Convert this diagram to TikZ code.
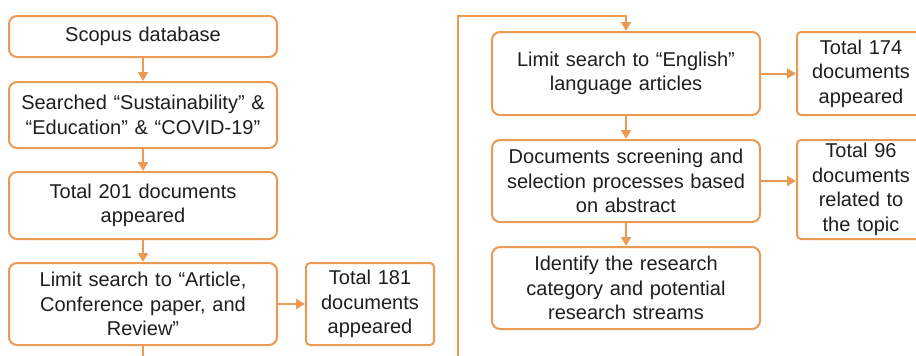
\documentclass[tikz,border=0pt]{standalone}
\usepackage{fontspec}
\setmainfont{Liberation Sans}
\usetikzlibrary{arrows.meta,positioning}
\definecolor{org}{HTML}{EA9A52}
\definecolor{txt}{HTML}{1E1E1E}
\begin{document}
\begin{tikzpicture}[x=1pt,y=-1pt,
  bigbox/.style={draw=org,line width=2pt,rounded corners=8pt,minimum width=268pt,inner sep=0pt,text width=262pt,align=center,text=txt,font=\fontsize{20}{24.5}\selectfont},
  smallbox/.style={draw=org,line width=2pt,rounded corners=4pt,minimum width=128pt,inner sep=0pt,text width=124pt,align=center,text=txt,font=\fontsize{20}{24.5}\selectfont},
  conn/.style={draw=org,line width=2pt},
  arr/.style={conn,-{Triangle[width=10pt,length=9pt]}}]
\useasboundingbox (0,0) rectangle (916,356);
\clip (0,0) rectangle (916,356);
\node[bigbox,minimum height=41pt] (b1) at (143,36.5) {Scopus database};
\node[bigbox,minimum height=66pt] (b2) at (143,115) {Searched “Sustainability” \&\\“Education” \& “COVID-19”};
\node[bigbox,minimum height=67pt] (b3) at (143,205.5) {Total 201 documents\\appeared};
\node[bigbox,minimum height=82pt] (b4) at (143,304) {Limit search to “Article,\\Conference paper, and\\Review”};
\node[smallbox,minimum height=82pt] (b5) at (370,304) {Total 181\\documents\\appeared};
\node[bigbox,minimum height=83pt] (b6) at (626,73.5) {Limit search to “English”\\language articles};
\node[smallbox,minimum height=83pt] (b7) at (861,73.5) {Total 174\\documents\\appeared};
\node[bigbox,minimum height=82pt] (b8) at (626,181) {Documents screening and\\selection processes based\\on abstract};
\node[smallbox,minimum height=99pt] (b9) at (861,189.5) {Total 96\\documents\\related to\\the topic};
\node[bigbox,minimum height=82pt] (b10) at (626,288) {Identify the research\\category and potential\\research streams};
\coordinate (d1) at (143,362);
\coordinate (d2) at (458,362);
\coordinate (t1) at (458,16);
\draw[arr] (b1) -- (b2);
\draw[arr] (b2) -- (b3);
\draw[arr] (b3) -- (b4);
\draw[arr] (b4) -- (b5);
\draw[conn] (b4.south) -- (d1);
\draw[arr] (d2) -- (t1) -| (b6.north);
\draw[arr] (b6) -- (b7);
\draw[arr] (b6) -- (b8);
\draw[arr] (b8.east) -- (b8.east -| b9.west);
\draw[arr] (b8) -- (b10);
\end{tikzpicture}
\end{document}
